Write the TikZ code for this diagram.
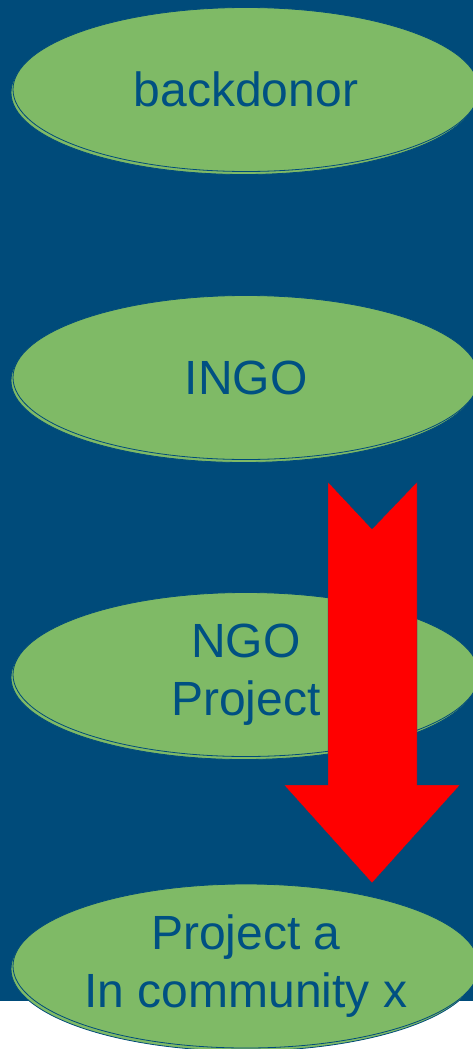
\documentclass[tikz,border=0pt]{standalone}
\usepackage{fontspec}
\setmainfont{Liberation Sans}
\usetikzlibrary{shapes.geometric}
\definecolor{bgblue}{RGB}{0,75,122}
\definecolor{txtblue}{RGB}{0,80,130}
\definecolor{leafgreen}{RGB}{127,186,102}
\definecolor{arrowred}{RGB}{255,0,0}
\tikzset{
  oval/.style={ellipse, fill=leafgreen, draw=bgblue, line width=0.8pt,
    minimum width=466pt, minimum height=164pt, inner sep=0pt,
    align=center, text=txtblue, font=\fontsize{48}{58}\selectfont},
  ovalshadow/.style={ellipse, fill=leafgreen, draw=bgblue, line width=0.8pt,
    minimum width=466pt, minimum height=164pt, inner sep=0pt},
  bigarrow/.style={fill=arrowred, draw=bgblue, line width=0.3pt}
}
\begin{document}
\begin{tikzpicture}[x=1pt,y=-1pt]
\useasboundingbox (0,0) rectangle (473,1049);
\fill[white] (0,0) rectangle (473,1049);
\fill[bgblue] (0,0) rectangle (473,1001);
% shadows
\node[ovalshadow] (s1) at (244,92.5) {};
\node[ovalshadow] (s2) at (244,380.5) {};
\node[ovalshadow] (s3) at (244,677.5) {};
\node[ovalshadow] (s4) at (244,969) {};
% ellipses
\node[oval] (donor) at (246,89.5) {backdonor};
\node[oval] (ingo) at (246,377.5) {INGO};
\node[oval] (ngo) at (246,674.5) {NGO\\Project};
\node[oval] (proj) at (246,966) {Project a\\In community x};
% red arrow
\fill[bigarrow] (328,482) -- (372,529) -- (417,482) -- (417,785) -- (460,785)
  -- (372,883) -- (284,785) -- (328,785) -- cycle;
\end{tikzpicture}
\end{document}
